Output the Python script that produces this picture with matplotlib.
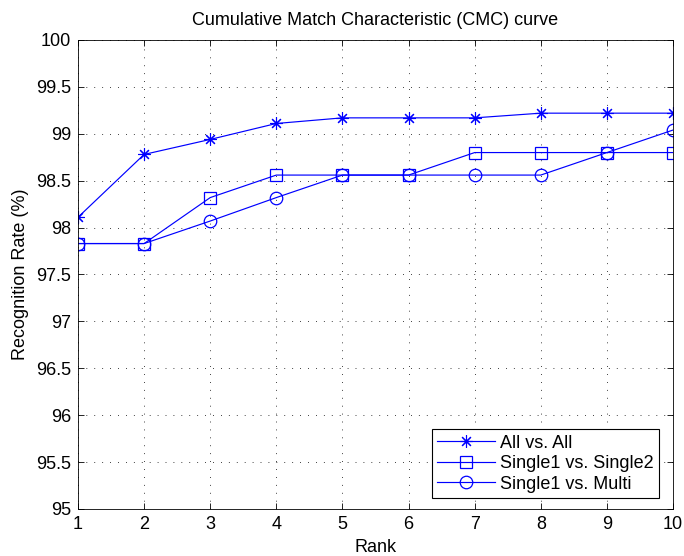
import matplotlib
matplotlib.use("Agg")
import matplotlib.pyplot as plt

plt.rcParams['font.family'] = ['Liberation Sans', 'DejaVu Sans']

ranks = [1, 2, 3, 4, 5, 6, 7, 8, 9, 10]
all_vs_all = [98.11, 98.78, 98.94, 99.11, 99.17, 99.17, 99.17, 99.22, 99.22, 99.22]
single1_vs_single2 = [97.83, 97.83, 98.32, 98.56, 98.56, 98.56, 98.80, 98.80, 98.80, 98.80]
single1_vs_multi = [97.83, 97.83, 98.07, 98.32, 98.56, 98.56, 98.56, 98.56, 98.80, 99.04]

series_labels = ['All vs. All', 'Single1 vs. Single2', 'Single1 vs. Multi']
yticks = [95, 95.5, 96, 96.5, 97, 97.5, 98, 98.5, 99, 99.5, 100]
ytick_labels = ['95', '95.5', '96', '96.5', '97', '97.5', '98', '98.5', '99', '99.5', '100']

fig = plt.figure(figsize=(6.84, 5.56), dpi=100)
ax = fig.add_axes([78 / 684, 1 - 509 / 556, 595 / 684, 469 / 556])

blue = (0, 0, 1)
ax.plot(ranks, all_vs_all, color=blue, lw=0.85, marker=(8, 2, 0), ms=9, mew=0.8,
        label=series_labels[0])
ax.plot(ranks, single1_vs_single2, color=blue, lw=0.85, marker='s', ms=8, mew=0.9,
        mfc='none', label=series_labels[1])
ax.plot(ranks, single1_vs_multi, color=blue, lw=0.85, marker='o', ms=9, mew=0.9,
        mfc='none', label=series_labels[2])

ax.set_xlim(1, 10)
ax.set_ylim(95, 100)
ax.set_xticks(ranks)
ax.set_yticks(yticks)
ax.set_yticklabels(ytick_labels)
ax.tick_params(direction='in', top=True, right=True, labelsize=13, length=4,
               width=0.6, pad=5)
ax.grid(True, color='black', linestyle=(0, (1, 8.5)), linewidth=0.6)
for s in ax.spines.values():
    s.set_linewidth(0.6)

ax.set_xlabel('Rank', fontsize=13, labelpad=4)
ax.set_ylabel('Recognition Rate (%)', fontsize=13, labelpad=5)
ax.set_title('Cumulative Match Characteristic (CMC) curve', fontsize=13, pad=11)

leg = ax.legend(loc='lower right', fontsize=13, fancybox=False, framealpha=1,
                edgecolor='black', borderpad=0.3, labelspacing=0.2,
                handlelength=3.2, handletextpad=0.3, borderaxespad=0.6,
                bbox_to_anchor=(0.995, 0.0))
leg.get_frame().set_linewidth(0.8)

fig.savefig('out.png', dpi=100)
